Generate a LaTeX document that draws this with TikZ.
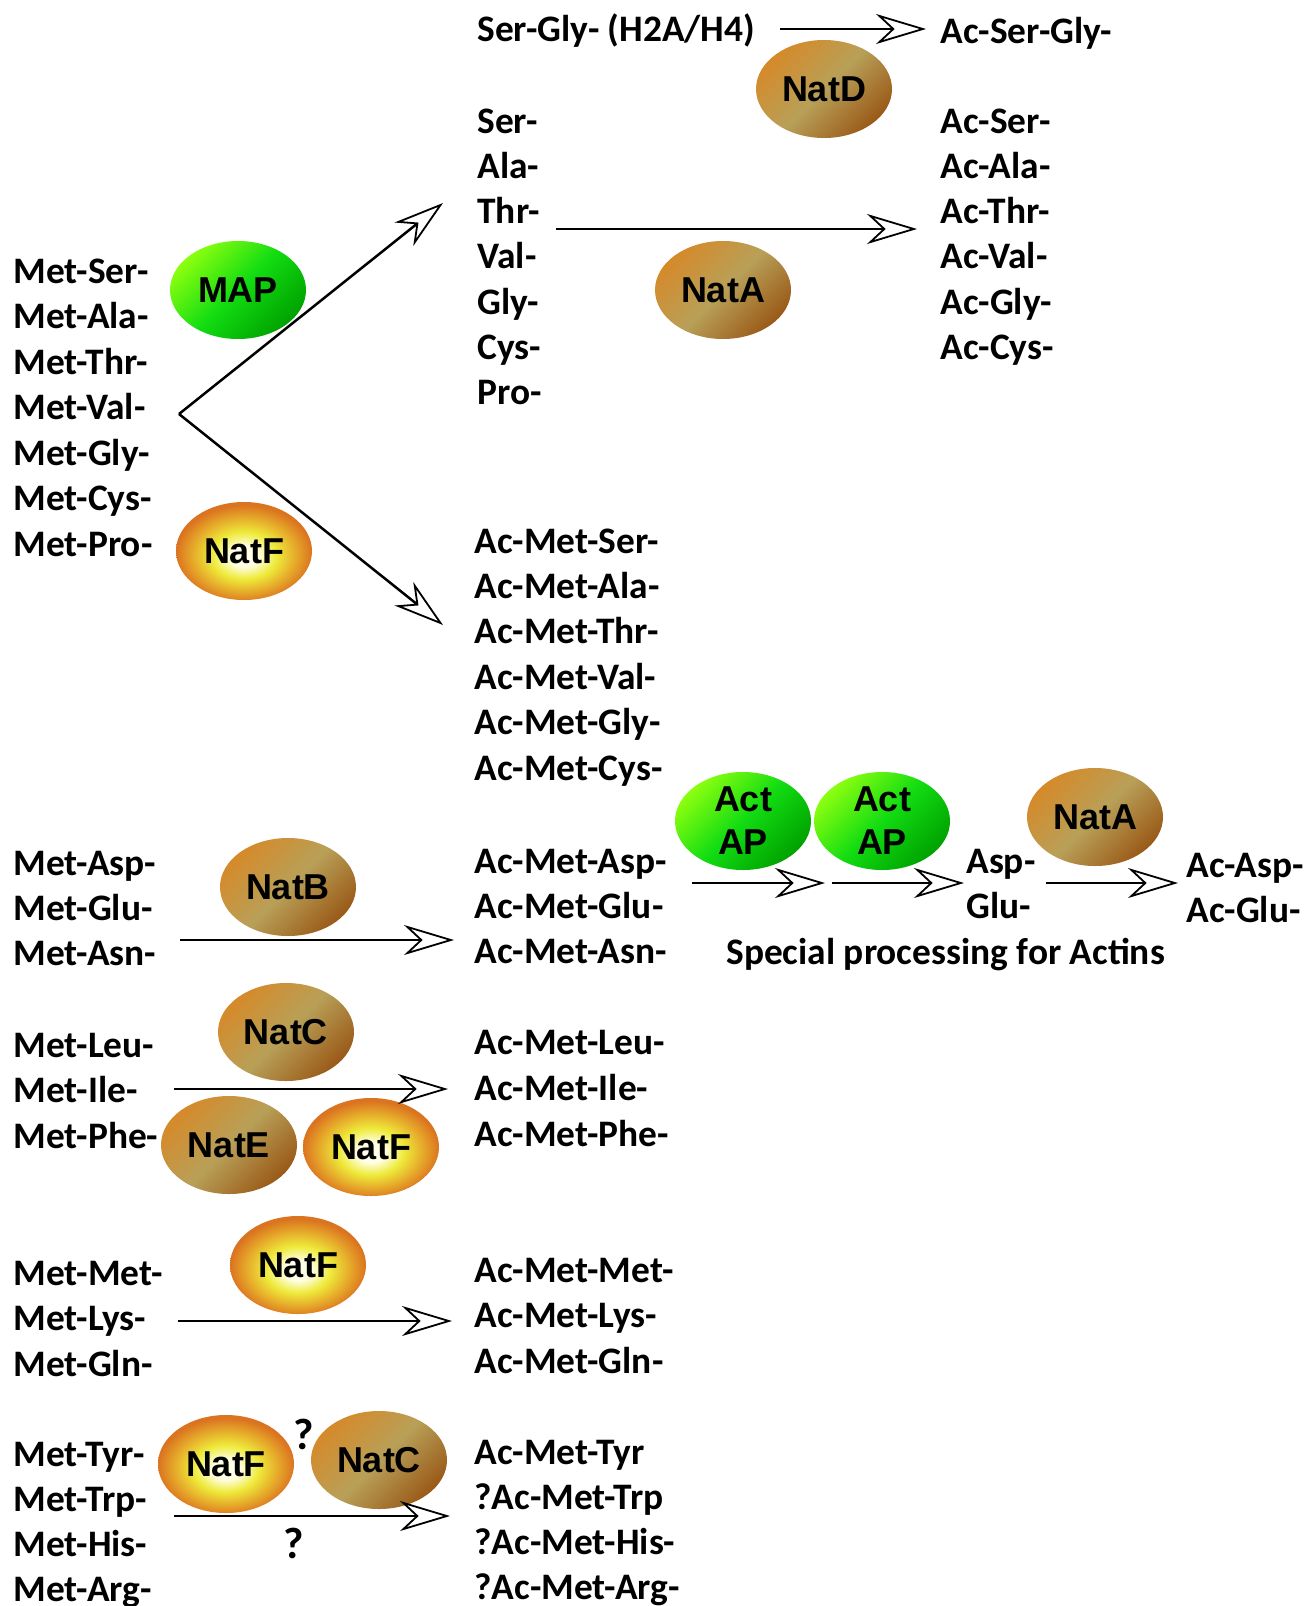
\documentclass[tikz,border=0pt]{standalone}
\usepackage{fontspec}
\usetikzlibrary{shapes.geometric, arrows.meta}

\newfontfamily\pepfamily{Carlito}
\newfontfamily\enzfamily{Liberation Sans}
\newcommand{\pepfnt}{\pepfamily\bfseries\fontsize{18.7}{22}\selectfont}
\newcommand{\enzfnt}{\enzfamily\bfseries\fontsize{18}{21.5}\selectfont}
\newcommand{\qfnt}{\pepfamily\bfseries\fontsize{22}{26}\selectfont}

% enzyme colours
\definecolor{brownA}{HTML}{D58A2A}
\definecolor{brownB}{HTML}{B8A058}
\definecolor{brownC}{HTML}{9A5A18}
\definecolor{greenA}{HTML}{8CFF10}
\definecolor{greenB}{HTML}{12DC12}
\definecolor{greenC}{HTML}{00A200}
\definecolor{natfIn}{HTML}{FFFFE6}
\definecolor{natfMid}{HTML}{EEEA3A}
\definecolor{natfOutA}{HTML}{E6AA2A}
\definecolor{natfOutB}{HTML}{DB7420}

\pgfdeclareradialshading{natfglow}{\pgfpoint{0bp}{-3bp}}{%
  color(0bp)=(natfIn); color(5bp)=(natfIn); color(12bp)=(natfMid);
  color(19bp)=(natfOutA); color(25bp)=(natfOutB); color(50bp)=(natfOutB)}

\tikzset{
  pep/.style={anchor=base west, inner sep=0pt, font=\pepfnt},
  qmark/.style={inner sep=0pt, font=\qfnt},
  enz/.style={ellipse, minimum width=68pt, minimum height=49pt, inner sep=0pt,
    align=center, font=\enzfnt},
  natbrown/.style={enz, top color=brownA, bottom color=brownC, middle color=brownB,
    shading angle=45},
  natgreen/.style={enz, top color=greenA, bottom color=greenC, middle color=greenB,
    shading angle=45},
  natyellow/.style={enz, shading=natfglow},
  arr/.style={line width=1.25pt,
    -{Stealth[open, length=25pt, width=15pt, inset=8pt, line width=0.9pt]}},
}

\begin{document}
\begin{tikzpicture}[x=0.5pt, y=-0.5pt]
\fill[white] (0,0) rectangle (1315,1606);
\useasboundingbox (0,0) rectangle (1315,1606);

% ---------- NatD: histone N-termini ----------
\node[pep] (sg) at (477,41) {Ser-Gly- (H2A/H4)};
\node[pep] (acsg) at (940,43) {Ac-Ser-Gly-};
\node[natbrown] (natD) at (824,89) {NatD};
\coordinate (sgA) at (780,29);
\coordinate (sgB) at (926,29);
\draw[arr] (sgA) -- (sgB);

% ---------- MAP cleavage and NatA ----------
\foreach \t [count=\i] in {Ser-,Ala-,Thr-,Val-,Gly-,Cys-,Pro-}
  \node[pep] (aa\i) at (477,{133+45.3*(\i-1)}) {\t};
\foreach \t [count=\i] in {Ac-Ser-,Ac-Ala-,Ac-Thr-,Ac-Val-,Ac-Gly-,Ac-Cys-}
  \node[pep] (acaa\i) at (940,{133+45.3*(\i-1)}) {\t};
\node[natbrown] (natA) at (723,290) {NatA};
\coordinate (naA) at (556,229);
\coordinate (naB) at (917,229);
\draw[arr] (naA) -- (naB);

\foreach \t [count=\i] in {Met-Ser-,Met-Ala-,Met-Thr-,Met-Val-,Met-Gly-,Met-Cys-,Met-Pro-}
  \node[pep] (ms\i) at (13,{283+45.5*(\i-1)}) {\t};
\node[natgreen] (map) at (238,290) {MAP};
\node[natyellow] (natF1) at (244,551) {NatF};
\coordinate (vtx) at (179,414);
\coordinate (upTip) at (443,203);
\coordinate (dnTip) at (443,625);
\draw[arr] (vtx) -- (upTip);
\draw[arr] (vtx) -- (dnTip);

\foreach \t [count=\i] in {Ac-Met-Ser-,Ac-Met-Ala-,Ac-Met-Thr-,Ac-Met-Val-,Ac-Met-Gly-,Ac-Met-Cys-}
  \node[pep] (ams\i) at (474,{553+45.4*(\i-1)}) {\t};

% ---------- NatB and actin processing ----------
\foreach \t [count=\i] in {Met-Asp-,Met-Glu-,Met-Asn-}
  \node[pep] (md\i) at (13,{875+45.2*(\i-1)}) {\t};
\node[natbrown] (natB) at (288,887) {NatB};
\coordinate (nbA) at (180,940);
\coordinate (nbB) at (454,940);
\draw[arr] (nbA) -- (nbB);
\foreach \t [count=\i] in {Ac-Met-Asp-,Ac-Met-Glu-,Ac-Met-Asn-}
  \node[pep] (amd\i) at (474,{873+45*(\i-1)}) {\t};

\node[natgreen] (actap1) at (743,821) {Act\\AP};
\node[natgreen] (actap2) at (882,821) {Act\\AP};
\node[natbrown] (natA2) at (1095,817) {NatA};
\coordinate (apA) at (692,883);
\coordinate (apB) at (825,883);
\coordinate (apC) at (832,883);
\coordinate (apD) at (964,883);
\coordinate (apE) at (1046,883);
\coordinate (apF) at (1178,883);
\draw[arr] (apA) -- (apB);
\draw[arr] (apC) -- (apD);
\draw[arr] (apE) -- (apF);
\node[pep] (asp1) at (966,873) {Asp-};
\node[pep] (asp2) at (966,918) {Glu-};
\node[pep] (acasp1) at (1186,877) {Ac-Asp-};
\node[pep] (acasp2) at (1186,922) {Ac-Glu-};
\node[pep] (special) at (726,964) {Special processing for Actins};

% ---------- NatC / NatE / NatF ----------
\foreach \t [count=\i] in {Met-Leu-,Met-Ile-,Met-Phe-}
  \node[pep] (ml\i) at (13,{1057+45.5*(\i-1)}) {\t};
\node[natbrown] (natC) at (286,1032) {NatC};
\node[natbrown] (natE) at (229,1145) {NatE};
\node[natyellow] (natF2) at (371,1147) {NatF};
\coordinate (ncA) at (174,1089);
\coordinate (ncB) at (448,1089);
\draw[arr] (ncA) -- (ncB);
\foreach \t [count=\i] in {Ac-Met-Leu-,Ac-Met-Ile-,Ac-Met-Phe-}
  \node[pep] (aml\i) at (474,{1054+46*(\i-1)}) {\t};

% ---------- NatF ----------
\foreach \t [count=\i] in {Met-Met-,Met-Lys-,Met-Gln-}
  \node[pep] (mm\i) at (13,{1285+45.5*(\i-1)}) {\t};
\node[natyellow] (natF3) at (298,1265) {NatF};
\coordinate (nfA) at (178,1321);
\coordinate (nfB) at (452,1321);
\draw[arr] (nfA) -- (nfB);
\foreach \t [count=\i] in {Ac-Met-Met-,Ac-Met-Lys-,Ac-Met-Gln-}
  \node[pep] (amm\i) at (474,{1282+45.5*(\i-1)}) {\t};

% ---------- uncertain substrates ----------
\foreach \t [count=\i] in {Met-Tyr-,Met-Trp-,Met-His-,Met-Arg-}
  \node[pep] (mt\i) at (13,{1466+45.3*(\i-1)}) {\t};
\node[natyellow] (natF4) at (226,1464) {NatF};
\node[natbrown] (natC2) at (379,1460) {NatC};
\node[qmark] (q1) at (304,1434) {?};
\node[qmark] (q2) at (294,1543) {?};
\coordinate (unA) at (174,1516);
\coordinate (unB) at (450,1516);
\draw[arr] (unA) -- (unB);
\foreach \t [count=\i] in {Ac-Met-Tyr,?Ac-Met-Trp,?Ac-Met-His-,?Ac-Met-Arg-}
  \node[pep] (amt\i) at (474,{1464+45.3*(\i-1)}) {\t};
\end{tikzpicture}
\end{document}
